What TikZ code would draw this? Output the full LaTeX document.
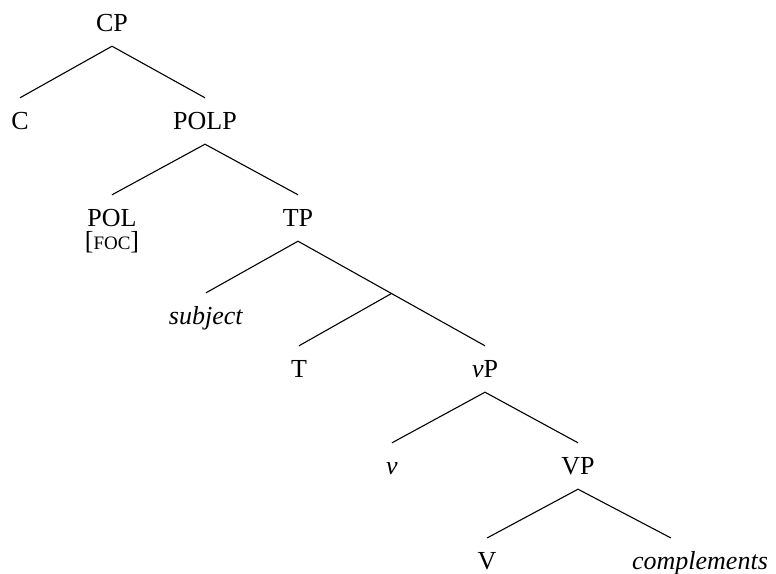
\documentclass[tikz,border=0pt]{standalone}
\usepackage{fontspec}
\setmainfont{Liberation Serif}
\usetikzlibrary{calc}

\begin{document}
\begin{tikzpicture}[x=1pt,y=-1pt,
    cat/.style={inner sep=0pt, text height=17pt, text depth=0pt, minimum height=46pt, font=\fontsize{26}{30}\selectfont},
    leaf/.style={cat, minimum height=0pt, outer ysep=14.5pt},
    branch/.style={line width=1.1pt}]
      \useasboundingbox (0,0) rectangle (776,573);
      \node[cat] (CP) at (112,23) {CP};
      \node[cat] (C) at (20,121) {C};
      \node[cat] (POLP) at (205,121) {POLP};
      \node[cat] (POL) at (112,218) {POL};
      \node[cat] (foc) at (112,241) {[{\fontsize{19}{22}\selectfont FOC}]};
      \node[cat] (TP) at (298,218) {TP};
      \node[cat] (subj) at (206,316) {\textit{subject}};
      \node[cat] (T) at (299,369) {T};
      \node[cat] (vP) at (485,369) {\textit{v}P};
      \node[cat] (v) at (392,466) {\textit{v}};
      \node[cat] (VP) at (578,466) {VP};
      \node[leaf] (V) at (487,561) {V};
      \node[leaf] (cmp) at (700,561) {\textit{complements}};
      \coordinate (Tbar) at ($(TP.south)!0.5!(vP.north)$);
      \draw[branch] (CP.south) -- (C.north);
      \draw[branch] (CP.south) -- (POLP.north);
      \draw[branch] (POLP.south) -- (POL.north);
      \draw[branch] (POLP.south) -- (TP.north);
      \draw[branch] (TP.south) -- (subj.north);
      \draw[branch] (TP.south) -- (vP.north);
      \draw[branch] (Tbar) -- (T.north);
      \draw[branch] (vP.south) -- (v.north);
      \draw[branch] (vP.south) -- (VP.north);
      \draw[branch] (VP.south) -- (V.north);
      \draw[branch] (VP.south) -- ([xshift=-29pt]cmp.north);
\end{tikzpicture}
\end{document}
